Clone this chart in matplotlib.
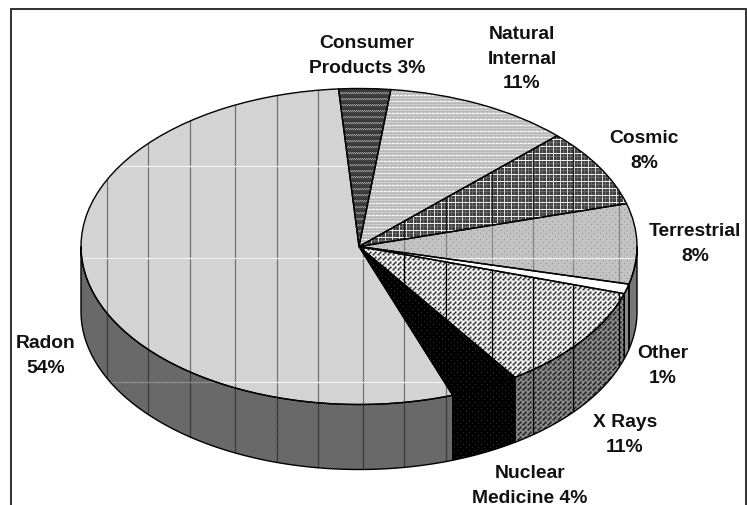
import numpy as np
import matplotlib
matplotlib.use("Agg")
import matplotlib.pyplot as plt
from matplotlib.patches import Polygon

# ---- data ----
categories = ["Radon", "Consumer Products", "Natural Internal", "Cosmic",
              "Terrestrial", "Other", "X Rays", "Nuclear Medicine"]
shares = [54.3, 3.0, 10.8, 8.0, 8.2, 1.0, 10.7, 4.0]
label_texts = ["Radon\n54%", "Consumer\nProducts 3%", "Natural\nInternal\n11%",
               "Cosmic\n8%", "Terrestrial\n8%", "Other\n1%", "X Rays\n11%",
               "Nuclear\nMedicine 4%"]

# ---- layout (pixels) ----
W, H = 747, 506
CX, CY, RX, RY, DEPTH = 359.0, 247.5, 278.0, 158.0, 65.0
START = 160.3  # degrees clockwise from 12 o'clock

def dx(px): return (px - CX) / RX
def dy(py): return (CY - py) / RY

label_pos = [(46, 356), (367, 56), (522, 59), (644, 151), (695, 244),
             (663, 366), (625, 435), (530, 486)]

fig = plt.figure(figsize=(W / 100, H / 100), dpi=100)
ax = fig.add_axes([0, 0, 1, 1])

wedges, _ = ax.pie(shares, startangle=90 - START, counterclock=False, radius=1,
                   center=(0, 0), wedgeprops=dict(edgecolor="black", linewidth=1.0, zorder=6))
for w in wedges:
    w.set_facecolor("none")
ax.set_aspect("auto")
ax.set_xlim(dx(0), dx(W))
ax.set_ylim(dy(H), dy(0))
ax.axis("off")

def texture(tile):
    tile = np.array(tile, dtype=float)
    ny = H // tile.shape[0] + 1
    nx = W // tile.shape[1] + 1
    return np.tile(tile, (ny, nx))[:H, :W]

def paint(patch, tile, z=2):
    im = ax.imshow(texture(tile), cmap="gray", vmin=0, vmax=255, aspect="auto",
                   interpolation="nearest", extent=(dx(0), dx(W), dy(H), dy(0)),
                   zorder=z)
    im.set_clip_path(patch)

def lines(patch, xs, ys, vcol, hcol, z=3):
    for x in xs:
        if vcol:
            l, = ax.plot([dx(x)] * 2, [dy(0), dy(H)], color=vcol, lw=0.9, zorder=z)
            l.set_clip_path(patch)
    for y in ys:
        if hcol:
            l, = ax.plot([dx(0), dx(W)], [dy(y)] * 2, color=hcol, lw=0.9, zorder=z)
            l.set_clip_path(patch)

T_RADON = [[0xcc, 0xda], [0xda, 0xcc]]
T_RADON_S = [[0x62, 0x72], [0x72, 0x62]]
T_CONS = [[0x3c] * 4, [0x3c] * 4, [0x38] * 4,
          [0x9a, 0x50, 0x9a, 0x50], [0x50, 0x9a, 0x50, 0x9a], [0x44] * 4]
T_NAT = [[0xf6, 0xf6, 0xf6, 0xc8], [0xc4] * 4, [0xb8] * 4, [0xd0] * 4, [0xb8] * 4, [0xc4] * 4]
T_COS = np.full((7, 7), 0x40); T_COS[:, 3] = 0x68; T_COS[3, :] = 0x68
T_COS[:, 0] = 0xd8; T_COS[0, :] = 0xf0
T_TER = np.full((6, 6), 0xc2); T_TER[0, 0] = 0x90; T_TER[3, 3] = 0x90
T_XR = [[0xf4, 0xf4, 0x90, 0x20, 0x90], [0xf4, 0xf4, 0xc0, 0x90, 0xc0],
        [0x90, 0xc0, 0xf4, 0xf4, 0xf4], [0x20, 0x90, 0xf4, 0xf4, 0xa0],
        [0x90, 0xc0, 0xf4, 0xa0, 0x30]]
T_XR_S = [[0x8c, 0x8c, 0x50, 0x18, 0x50], [0x8c, 0x8c, 0x68, 0x50, 0x68],
          [0x50, 0x68, 0x8c, 0x8c, 0x8c], [0x18, 0x50, 0x8c, 0x8c, 0x60],
          [0x50, 0x68, 0x8c, 0x60, 0x20]]
T_NUC = np.zeros((6, 6)); T_NUC[1, 1] = 0x30; T_NUC[4, 4] = 0x30
T_OTH = [[0xff]]
top_tiles = [T_RADON, T_CONS, T_NAT, T_COS, T_TER, T_OTH, T_XR, T_NUC]
side_tiles = [T_RADON_S, T_CONS, T_NAT, T_COS, [[0x74, 0x7c], [0x7c, 0x74]],
              [[0x8c]], T_XR_S, T_NUC]

GRID_X = [107, 148, 190, 235, 277, 318, 363, 404, 446, 492, 533, 573, 619]
GRID_Y = [167, 259, 383]
top_v = ["#707070", None, None, "#202020", "#858585", None, "#000000", None]
top_h = ["#f0f0f0", None, None, None, "#f0f0f0", None, None, None]
side_v = ["#3a3a3a", None, None, None, "#404040", "#000000", "#000000", None]
side_h = ["#8c8c8c", None, None, None, None, None, None, None]

# side wall: the part of every slice's rim on the near half of the ellipse
fractions = np.array(shares) / np.sum(shares)
edges = START + 360 * np.concatenate([[0], np.cumsum(fractions)])
for i in range(len(shares)):
    segs = []
    a, b = edges[i], edges[i + 1]
    for off in (0, 360):
        lo, hi = max(a, 90 + off), min(b, 270 + off)
        if hi > lo:
            segs.append((lo, hi))
    for lo, hi in segs:
        t = np.radians(np.linspace(lo, hi, 200))
        xs = np.sin(t)
        ys = np.cos(t)
        d = DEPTH / RY
        poly = np.vstack([np.c_[xs, ys], np.c_[xs[::-1], ys[::-1] - d]])
        p = Polygon(poly, closed=True, facecolor="none", edgecolor="black",
                    linewidth=1.0, zorder=5)
        ax.add_patch(p)
        paint(p, side_tiles[i])
        lines(p, GRID_X, GRID_Y, side_v[i], side_h[i])

for i, w in enumerate(wedges):
    paint(w, top_tiles[i])
    lines(w, GRID_X, GRID_Y, top_v[i], top_h[i])

for txt, (x, y) in zip(label_texts, label_pos):
    ax.text(dx(x), dy(y), txt, ha="center", va="center", family="Liberation Sans",
            weight="bold", fontsize=13.85, linespacing=1.58, color="#111111", zorder=8)

# chart frame: open at the bottom, running off the picture
ax.plot([dx(11), dx(11), dx(746), dx(746)], [dy(H + 5), dy(10), dy(10), dy(H + 5)],
        color="#303030", lw=1.4, zorder=7, solid_joinstyle="miter")

ax.set_xlim(dx(0), dx(W))
ax.set_ylim(dy(H), dy(0))
fig.savefig("out.png", dpi=100, facecolor="white")
